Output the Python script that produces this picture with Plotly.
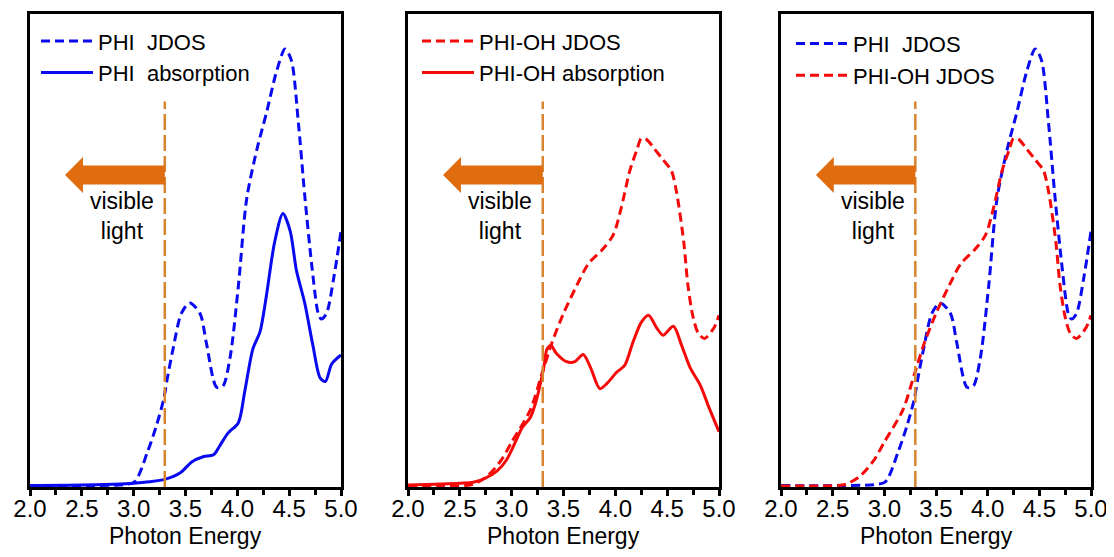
import plotly.graph_objects as go

# ---------------- data ----------------
X_RANGE = [2.0, 5.0]
Y_RANGE = [0, 100]
TICK_VALS = [2.0, 2.5, 3.0, 3.5, 4.0, 4.5, 5.0]
TICK_TEXT = ["2.0", "2.5", "3.0", "3.5", "4.0", "4.5", "5.0"]
X_TITLE = "Photon Energy"
VISIBLE_EDGE = 3.3          # eV, visible-light boundary
EDGE_LINE_TOP = 81.5        # top of the dashed boundary line (axis units)

PHI_JDOS_X = [2.0, 2.5, 2.9, 3.01, 3.13, 3.22, 3.29, 3.32, 3.38, 3.46, 3.54, 3.64, 3.70,
              3.80, 3.86, 3.93, 4.01, 4.09, 4.19, 4.28, 4.38, 4.46, 4.52, 4.59, 4.65,
              4.72, 4.78, 4.81, 4.86, 4.93, 5.0]
PHI_JDOS_Y = [0.3, 0.3, 0.5, 1.1, 7.2, 13.0, 18.6, 22.4, 29.2, 36.7, 38.9, 36.7, 30.6,
              21.1, 21.3, 27.4, 42.5, 60.9, 71.5, 79.0, 88.0, 92.6, 90.3, 76.7, 61.7,
              46.5, 36.7, 35.5, 36.7, 44.2, 54.1]

PHI_ABS_X = [2.0, 2.5, 2.8, 3.0, 3.15, 3.3, 3.45, 3.56, 3.67, 3.77, 3.83, 3.91, 4.01,
             4.07, 4.15, 4.22, 4.28, 4.36, 4.44, 4.51, 4.57, 4.65, 4.73, 4.80, 4.85,
             4.91, 5.0]
PHI_ABS_Y = [0.3, 0.4, 0.6, 0.8, 1.1, 1.6, 3.0, 5.3, 6.4, 6.8, 8.7, 11.4, 13.6,
             20.0, 29.2, 32.9, 40.4, 51.8, 57.8, 54.1, 45.8, 38.9, 29.8, 23.0, 22.3,
             26.0, 27.9]

PHIOH_JDOS_X = [2.0, 2.3, 2.55, 2.63, 2.76, 2.9, 3.0, 3.18, 3.29, 3.39, 3.50, 3.63,
                3.74, 3.88, 3.98, 4.06, 4.14, 4.21, 4.25, 4.30, 4.38, 4.46, 4.54, 4.59,
                4.66, 4.70, 4.75, 4.80, 4.86, 4.95, 5.0]
PHIOH_JDOS_Y = [0.2, 0.2, 0.3, 0.6, 2.2, 5.7, 9.5, 16.3, 23.8, 30.6, 36.7, 42.7,
                47.2, 50.3, 53.3, 59.3, 66.9, 71.4, 73.7, 73.5, 71.4, 69.2, 66.9, 62.4,
                51.8, 42.7, 35.9, 32.5, 31.4, 33.6, 36.3]

PHIOH_ABS_X = [2.0, 2.5, 2.63, 2.75, 2.86, 2.95, 3.05, 3.10, 3.18, 3.24, 3.31, 3.34,
               3.38, 3.43, 3.53, 3.61, 3.69, 3.76, 3.85, 3.92, 4.01, 4.09, 4.17, 4.25,
               4.32, 4.40, 4.46, 4.56, 4.64, 4.72, 4.82, 4.90, 5.0]
PHIOH_ABS_Y = [0.4, 0.8, 1.0, 1.9, 3.4, 5.7, 10.2, 12.5, 14.7, 18.5, 25.3, 29.1,
               29.9, 28.3, 26.5, 26.5, 28.0, 25.3, 20.8, 21.9, 24.2, 25.7, 30.6, 34.8,
               36.3, 33.6, 32.1, 34.0, 29.9, 25.3, 21.5, 17.0, 11.7]

# arrow outline (axis units): tip x, head-base x, tail x and y levels
ARROW_TIP_X, ARROW_HEAD_X, ARROW_TAIL_X = 2.338, 2.511, 3.3
ARROW_Y_MID, ARROW_HEAD_HALF, ARROW_BODY_HALF = 65.96, 3.8, 2.0

# ---------------- style ----------------
BLUE = "#0A0AF0"
RED = "#F50A0A"
ORANGE_ARROW = "#E06C10"
ORANGE_LINE = "#D8842E"
FONT = "Liberation Sans, Arial, sans-serif"
DASH = "9px,5px"
W = 3

# page offset of the figure (browser body margin) and figure size
OFF = 8
FW, FH = 1114 - OFF, 557 - 2 * OFF

fig = go.Figure()

def add(x, y, name, color, dash, xa, ya, legend):
    fig.add_trace(go.Scatter(
        x=x, y=y, name=name, mode="lines",
        line=dict(color=color, width=W, dash=dash, shape="spline", smoothing=0.8),
        xaxis=xa, yaxis=ya, legend=legend, hoverinfo="skip"))

add(PHI_JDOS_X, PHI_JDOS_Y, "PHI\u00a0 JDOS", BLUE, DASH, "x", "y", "legend")
add(PHI_ABS_X, PHI_ABS_Y, "PHI\u00a0 absorption", BLUE, "solid", "x", "y", "legend")
add(PHIOH_JDOS_X, PHIOH_JDOS_Y, "PHI-OH JDOS", RED, DASH, "x2", "y2", "legend2")
add(PHIOH_ABS_X, PHIOH_ABS_Y, "PHI-OH absorption", RED, "solid", "x2", "y2", "legend2")
add(PHI_JDOS_X, PHI_JDOS_Y, "PHI\u00a0 JDOS", BLUE, DASH, "x3", "y3", "legend3")
add(PHIOH_JDOS_X, PHIOH_JDOS_Y, "PHI-OH JDOS", RED, DASH, "x3", "y3", "legend3")

def px(xp):  # page x pixel -> paper fraction
    return (xp - OFF) / FW

def py(yp):  # page y pixel -> paper fraction (from bottom)
    return 1 - (yp - OFF) / FH

domains = [[px(30), px(341)], [px(408), px(719)], [px(781), px(1091)]]
axis_ids = [("x", "y", "xaxis", "yaxis"), ("x2", "y2", "xaxis2", "yaxis2"),
            ("x3", "y3", "xaxis3", "yaxis3")]

TOP, BOTTOM = 14, 487   # page y of frame
PLOT_H = BOTTOM - TOP
layout = dict(
    width=FW, height=FH,
    margin=dict(l=0, r=0, t=TOP - OFF, b=FH - (BOTTOM - OFF), pad=0, autoexpand=False),
    paper_bgcolor="white", plot_bgcolor="white",
    font=dict(family=FONT, color="black"),
    showlegend=True,
)

shapes = []
annotations = []
for (xr, yr, xk, yk), dom in zip(axis_ids, domains):
    layout[xk] = dict(
        domain=dom, range=X_RANGE, tickvals=TICK_VALS, ticktext=TICK_TEXT,
        showline=True, linecolor="black", linewidth=2.5, mirror=True,
        ticks="outside", ticklen=6, tickwidth=2.5, tickcolor="black",
        minor=dict(ticks="outside", ticklen=5, tickwidth=2.5, tickcolor="black", dtick=0.25),
        showgrid=False, zeroline=False, automargin=False,
        ticklabelstandoff=-8, ticklabeloverflow="allow",
        tickfont=dict(size=24, family=FONT, color="black"),
        anchor=yr,
    )
    layout[yk] = dict(
        domain=[0, 1], range=Y_RANGE, showline=True, linecolor="black", linewidth=2.5,
        mirror=True, showticklabels=False, ticks="", showgrid=False, zeroline=False,
        automargin=False, anchor=xr,
    )
    shapes.append(dict(type="line", xref=xr, yref=yr, x0=VISIBLE_EDGE, x1=VISIBLE_EDGE,
                       y0=0, y1=EDGE_LINE_TOP,
                       line=dict(color=ORANGE_LINE, width=2.5, dash="16px,5px")))
    ym, hh, bh = ARROW_Y_MID, ARROW_HEAD_HALF, ARROW_BODY_HALF
    path = (f"M {ARROW_TIP_X} {ym} L {ARROW_HEAD_X} {ym + hh} L {ARROW_HEAD_X} {ym + bh} "
            f"L {ARROW_TAIL_X} {ym + bh} L {ARROW_TAIL_X} {ym - bh} L {ARROW_HEAD_X} {ym - bh} "
            f"L {ARROW_HEAD_X} {ym - hh} Z")
    shapes.append(dict(type="path", xref=xr, yref=yr, path=path,
                       fillcolor=ORANGE_ARROW, line=dict(width=0)))
    annotations.append(dict(xref=xr, yref=yr, x=2.887, y=57.3, text="visible<br>light",
                            showarrow=False, font=dict(size=23, family=FONT, color="black"),
                            xanchor="center", yanchor="middle"))
    # x-axis title, placed just above the bottom edge of the figure
    annotations.append(dict(xref=f"{xr} domain", yref=f"{yr} domain", x=0.5,
                            y=-(535.5 - BOTTOM) / PLOT_H, text=X_TITLE, showarrow=False,
                            font=dict(size=23, family=FONT, color="black"),
                            xanchor="center", yanchor="middle"))

layout["shapes"] = shapes
layout["annotations"] = annotations

leg_common = dict(xanchor="left", yanchor="top", bgcolor="rgba(0,0,0,0)",
                  font=dict(size=22, family=FONT, color="black"), itemwidth=52,
                  tracegroupgap=0, borderwidth=0)
layout["legend"] = dict(x=px(36), y=py(15), **leg_common)
layout["legend2"] = dict(x=px(417), y=py(15), **leg_common)
layout["legend3"] = dict(x=px(791), y=py(18), **leg_common)

fig.update_layout(**layout)
fig.write_html("out.html")
